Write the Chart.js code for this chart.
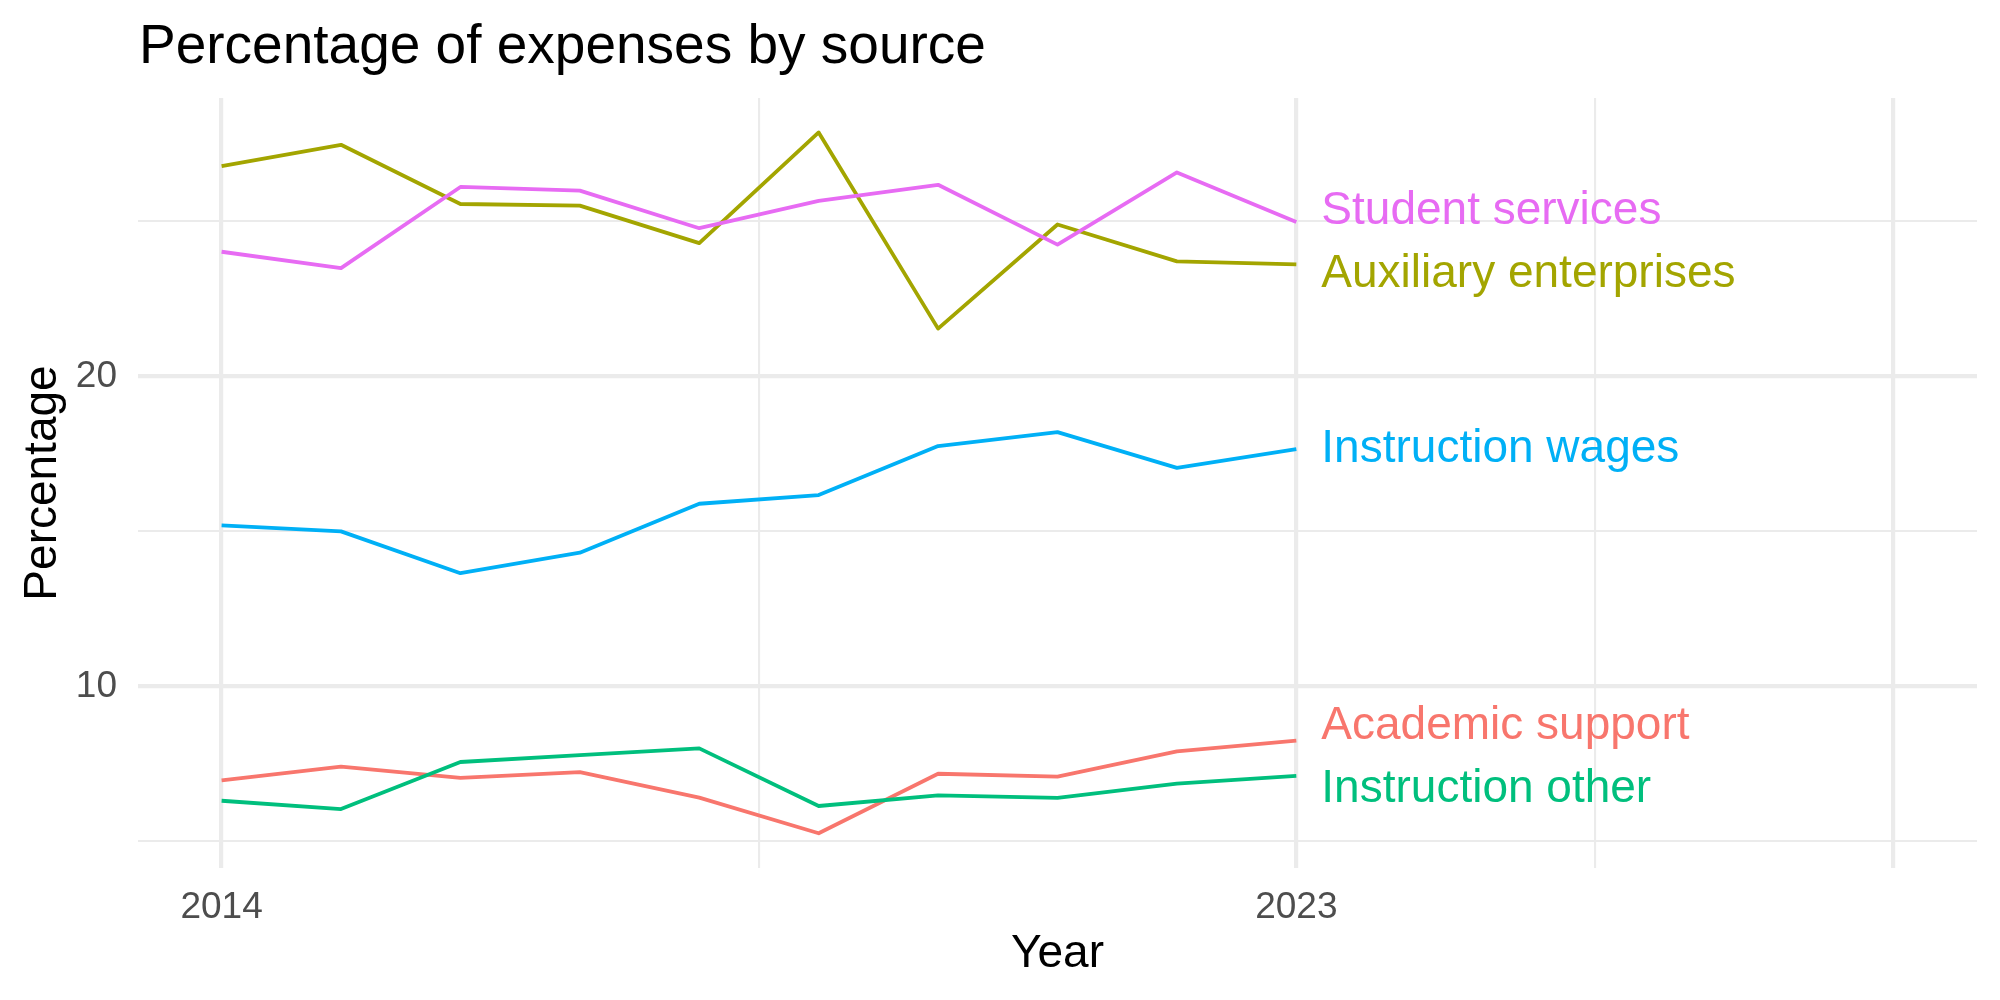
<!DOCTYPE html>
<html>
<head>
<meta charset="utf-8">
<title>Percentage of expenses by source</title>
<script src="https://cdn.jsdelivr.net/npm/chart.js@4"></script>
<style>
  body { margin: 0; background: #ffffff; }
  canvas { display: block; }
</style>
</head>
<body>
<canvas id="grafico" width="2000" height="1000"></canvas>
<script>
// dati
const anni = [2014, 2015, 2016, 2017, 2018, 2019, 2020, 2021, 2022, 2023];
const nomiSerie = ['Academic support', 'Auxiliary enterprises', 'Instruction other', 'Instruction wages', 'Student services'];
const academicSupport = [6.97, 7.41, 7.05, 7.23, 6.41, 5.26, 7.18, 7.09, 7.90, 8.25];
const auxiliaryEnterprises = [26.78, 27.47, 25.56, 25.51, 24.30, 27.87, 21.54, 24.90, 23.71, 23.61];
const instructionOther = [6.31, 6.04, 7.56, 7.78, 8.00, 6.14, 6.48, 6.40, 6.86, 7.11];
const instructionWages = [15.19, 15.00, 13.65, 14.31, 15.89, 16.17, 17.75, 18.20, 17.05, 17.65];
const studentServices = [24.02, 23.49, 26.11, 25.99, 24.78, 25.66, 26.18, 24.25, 26.58, 24.98];
const valoriSerie = [academicSupport, auxiliaryEnterprises, instructionOther, instructionWages, studentServices];

// tick e linee griglia
const tickX = [2014, 2018.5, 2023, 2025.5, 2028];
const etichetteX = [2014, 2023];
const tickXMaggiori = [2014, 2023, 2028];
const tickY = [5, 10, 15, 20, 25];
const etichetteY = [10, 20];

const colori = ['#F8766D', '#A3A500', '#00BF7D', '#00B0F6', '#E76BF3'];
const FONT = "'Liberation Sans', Arial, Helvetica, sans-serif";

// datasets al contrario: in Chart.js il primo viene disegnato sopra
const datasets = nomiSerie.map((nome, i) => ({
  label: nome,
  data: anni.map((a, j) => ({ x: a, y: valoriSerie[i][j] })),
  borderColor: colori[i],
  borderWidth: 3.8,
  pointRadius: 0,
  tension: 0,
  fill: false,
  borderJoinStyle: 'round'
})).reverse();

// titolo in alto a sinistra, allineato al pannello
const titoloPlugin = {
  id: 'titolo',
  afterDraw(chart) {
    const { ctx } = chart;
    ctx.save();
    ctx.font = `55px ${FONT}`;
    ctx.fillStyle = '#000000';
    ctx.textAlign = 'left';
    ctx.textBaseline = 'alphabetic';
    ctx.fillText('Percentage of expenses by source', 139, 63);
    ctx.restore();
  }
};

// etichette a fine linea, spostate per non sovrapporsi
const etichettePlugin = {
  id: 'etichette',
  afterDatasetsDraw(chart) {
    const { ctx } = chart;
    const gap = 63;
    const items = chart.data.datasets.map((ds, i) => {
      const meta = chart.getDatasetMeta(i);
      const ultimo = meta.data[meta.data.length - 1];
      return { testo: ds.label, colore: ds.borderColor, x: ultimo.x + 25, y: ultimo.y };
    }).sort((a, b) => a.y - b.y);
    for (let k = 0; k < 3; k++) {
      for (let i = 1; i < items.length; i++) {
        const d = items[i].y - items[i - 1].y;
        if (d < gap) {
          const sposta = (gap - d) / 2;
          items[i - 1].y -= sposta;
          items[i].y += sposta;
        }
      }
    }
    ctx.save();
    ctx.font = `46px ${FONT}`;
    ctx.textAlign = 'left';
    ctx.textBaseline = 'middle';
    items.forEach(it => {
      ctx.fillStyle = it.colore;
      ctx.fillText(it.testo, it.x, it.y);
    });
    ctx.restore();
  }
};

new Chart(document.getElementById('grafico'), {
  type: 'line',
  data: { datasets: datasets },
  options: {
    responsive: false,
    animation: false,
    devicePixelRatio: 1,
    layout: { padding: { top: 98, right: 23, bottom: 0, left: 0 } },
    plugins: {
      legend: { display: false },
      tooltip: { enabled: false },
      title: { display: false }
    },
    scales: {
      x: {
        type: 'linear',
        min: 2013.3,
        max: 2028.7,
        afterBuildTicks: s => { s.ticks = tickX.map(v => ({ value: v })); },
        afterFit: s => { s.height = 132; },
        border: { display: false },
        grid: {
          drawTicks: false,
          color: '#EBEBEB',
          lineWidth: c => tickXMaggiori.includes(c.tick.value) ? 4.2 : 2.1
        },
        ticks: {
          autoSkip: false,
          maxRotation: 0,
          padding: 18,
          color: '#4D4D4D',
          font: { family: FONT, size: 37 },
          callback: v => etichetteX.includes(v) ? String(v) : ''
        },
        title: {
          display: true,
          text: 'Year',
          color: '#000000',
          font: { family: FONT, size: 46 },
          padding: { top: 0, bottom: 18 }
        }
      },
      y: {
        type: 'linear',
        min: 4.14,
        max: 28.98,
        afterBuildTicks: s => { s.ticks = tickY.map(v => ({ value: v })); },
        afterFit: s => { s.width = 138; },
        border: { display: false },
        grid: {
          drawTicks: false,
          color: '#EBEBEB',
          lineWidth: c => etichetteY.includes(c.tick.value) ? 4.2 : 2.1
        },
        ticks: {
          autoSkip: false,
          padding: 21,
          color: '#4D4D4D',
          font: { family: FONT, size: 37 },
          callback: v => etichetteY.includes(v) ? String(v) : ''
        },
        title: {
          display: true,
          text: 'Percentage',
          color: '#000000',
          font: { family: FONT, size: 46 },
          padding: { top: 16, bottom: 0 }
        }
      }
    }
  },
  plugins: [titoloPlugin, etichettePlugin]
});
</script>
</body>
</html>
